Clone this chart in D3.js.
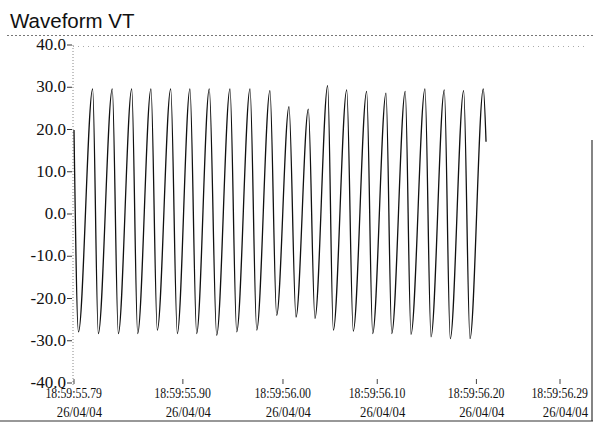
<!DOCTYPE html>
<html>
	<head>
		<meta charset="utf-8">
		<script type="text/javascript" src="https://cdn.jsdelivr.net/npm/d3@7"></script>
		<style>
		body {
			margin: 0;
			background-color: white;
		}
		.title {
			font: 20.5px "Liberation Sans", Arial, sans-serif;
			fill: #111;
		}
		.ylab {
			font: 17px "Liberation Serif", "Times New Roman", serif;
			fill: #111;
			text-anchor: end;
		}
		.xlab {
			font: 15.5px "Liberation Serif", "Times New Roman", serif;
			fill: #111;
			text-anchor: end;
		}
		</style>
	</head>
	<body>
		<script type="text/javascript">
			// seconds after 18:59 on 26/04/04
			var sampleTimes = [55.7900, 55.7946, 55.8092, 55.8150, 55.8294, 55.8356, 55.8494, 55.8555,
				55.8692, 55.8757, 55.8895, 55.8963, 55.9093, 55.9162, 55.9292, 55.9368,
				55.9505, 55.9574, 55.9711, 55.9780, 55.9916, 55.9985, 56.0112, 56.0184,
				56.0311, 56.0379, 56.0510, 56.0568, 56.0706, 56.0773, 56.0911, 56.0973,
				56.1110, 56.1169, 56.1308, 56.1367, 56.1511, 56.1573, 56.1710, 56.1771,
				56.1909, 56.1974, 56.2111, 56.2139];
			var sampleValues = [19.9, -27.9, 29.6, -28.3, 29.6, -28.3, 29.6, -28.3,
				29.6, -27.5, 29.6, -28.3, 29.6, -28.3, 29.6, -28.7,
				29.6, -27.9, 29.6, -27.5, 29.2, -24.0, 25.4, -24.4,
				24.8, -24.7, 30.4, -27.5, 29.4, -27.7, 29.0, -28.3,
				28.6, -28.3, 29.0, -28.5, 29.6, -29.1, 29.4, -29.5,
				29.2, -29.5, 29.6, 17.1];

			var yTicks = [40, 30, 20, 10, 0, -10, -20, -30, -40];
			var xTickTimes = [55.790, 55.902, 56.005, 56.102, 56.204, 56.290];
			var xTickLabels = ["18:59:55.79", "18:59:55.90", "18:59:56.00", "18:59:56.10", "18:59:56.20", "18:59:56.29"];
			var xTickDate = "26/04/04";

			var width = 595,
				height = 424;

			var x = d3.scaleLinear()
				.domain([55.79, 56.29])
				.range([74, 560]);

			var y = d3.scaleLinear()
				.domain([-40, 40])
				.range([383, 45]);

			var svg = d3.select("body").append("svg")
				.attr("width", width)
				.attr("height", height);

			svg.append("text")
				.attr("class", "title")
				.attr("x", 10)
				.attr("y", 28)
				.text("Waveform VT");

			// frame bits left over from the printout
			svg.append("line")
				.attr("x1", 7).attr("x2", 595)
				.attr("y1", 35.5).attr("y2", 35.5)
				.attr("stroke", "#777")
				.attr("stroke-dasharray", "2,2");
			svg.append("line")
				.attr("x1", 73).attr("x2", 585)
				.attr("y1", y(40) + 1.5).attr("y2", y(40) + 1.5)
				.attr("stroke", "#aaa")
				.attr("stroke-dasharray", "1,4");
			svg.append("line")
				.attr("x1", 0).attr("x2", 593)
				.attr("y1", 421).attr("y2", 421)
				.attr("stroke", "#333")
				.attr("stroke-width", 1.2);
			svg.append("line")
				.attr("x1", 592).attr("x2", 592)
				.attr("y1", 140).attr("y2", 421)
				.attr("stroke", "#333")
				.attr("stroke-width", 1.2);

			// y axis
			svg.append("line")
				.attr("x1", 73).attr("x2", 73)
				.attr("y1", y(40)).attr("y2", y(-40) + 4)
				.attr("stroke", "#888")
				.attr("stroke-dasharray", "1,2");

			var yt = svg.selectAll("g.ytick")
				.data(yTicks)
			  .enter().append("g")
				.attr("class", "ytick")
				.attr("transform", function(d) { return "translate(0," + y(d) + ")"; });

			yt.append("line")
				.attr("x1", 67).attr("x2", 72)
				.attr("stroke", "#333");

			yt.append("text")
				.attr("class", "ylab")
				.attr("x", 66)
				.attr("dy", ".3em")
				.text(function(d) { return d.toFixed(1); });

			// x axis
			var xt = svg.selectAll("g.xtick")
				.data(xTickTimes)
			  .enter().append("g")
				.attr("class", "xtick")
				.attr("transform", function(d) { return "translate(" + x(d) + ",0)"; });

			xt.append("line")
				.attr("y1", 379).attr("y2", 384)
				.attr("stroke", "#444");

			// condensed print face: squeeze the serif horizontally
			xt.append("text")
				.attr("class", "xlab")
				.attr("transform", "translate(28,398) scale(0.76,1)")
				.text(function(d, i) { return xTickLabels[i]; });

			xt.append("text")
				.attr("class", "xlab")
				.attr("transform", "translate(28,417) scale(0.82,1)")
				.text(xTickDate);

			// waveform
			var line = d3.line()
				.x(function(d, i) { return x(sampleTimes[i]); })
				.y(function(d) { return y(d); })
				.curve(d3.curveMonotoneX);

			svg.append("path")
				.datum(sampleValues)
				.attr("fill", "none")
				.attr("stroke", "#111")
				.attr("stroke-width", 1.3)
				.attr("d", line);
		</script>
	</body>
</html>
